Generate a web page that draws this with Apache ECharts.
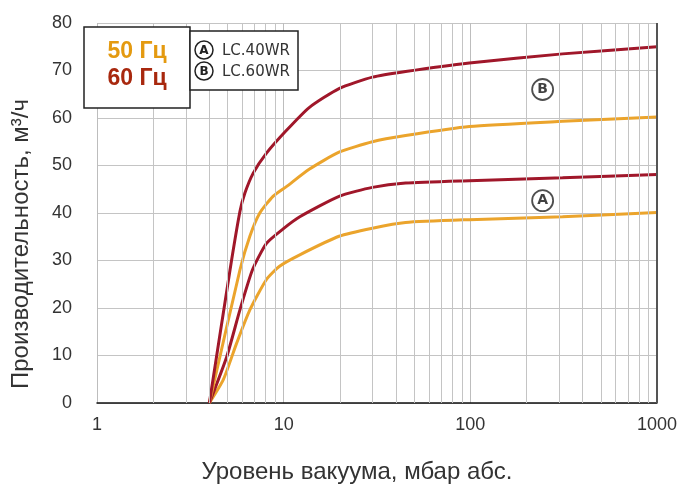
<!DOCTYPE html>
<html>
<head>
<meta charset="utf-8">
<script src="https://cdn.jsdelivr.net/npm/echarts@6/dist/echarts.min.js"></script>
<style>html,body{margin:0;padding:0;background:#fff}#c{width:680px;height:488px}</style>
</head>
<body>
<div id="c"></div>
<script>
// ---- data ----
const xTickLabels = ['1', '10', '100', '1000'];
const yTicks = [0, 10, 20, 30, 40, 50, 60, 70, 80];
const minorGridX = [2,3,4,5,6,7,8,9,20,30,40,50,60,70,80,90,200,300,400,500,600,700,800,900];

// LC.60WR, 60 Hz
const b60x = [4, 5.16, 5.83, 6.2, 6.87, 8.09, 10.3, 13.7, 19.8, 29.9, 45, 98.8, 312, 1000];
const b60y = [0, 28, 40.3, 44.2, 48.4, 52.6, 57.3, 62.2, 66.2, 68.6, 69.8, 71.6, 73.5, 75];
// LC.60WR, 50 Hz
const b50x = [4, 5.83, 6.59, 7.45, 8.77, 10.3, 13.7, 19.8, 29.9, 45, 98.8, 312, 1000];
const b50y = [0, 28, 35.1, 40, 43.5, 45.5, 49.2, 52.8, 55, 56.3, 58.2, 59.3, 60.2];
// LC.40WR, 60 Hz
const a60x = [4, 4.96, 5.83, 6.8, 8.09, 9.9, 12.2, 19.8, 29.9, 45, 98.8, 312, 1000];
const a60y = [0, 9.8, 19.6, 28, 33.6, 36.6, 39.2, 43.5, 45.4, 46.3, 46.8, 47.4, 48.1];
// LC.40WR, 50 Hz
const a50x = [4, 4.75, 5.6, 6.59, 8.09, 9.51, 12.2, 19.8, 29.9, 45, 98.8, 312, 1000];
const a50y = [0, 4.9, 12.6, 19.6, 26, 28.8, 31.2, 35.1, 36.8, 38, 38.6, 39.2, 40.1];

const markerLabels = ['A', 'B'];
const markerX = [244, 244];
const markerY = [42.6, 66];

const freqLabels = ['50 Гц', '60 Гц'];
const modelLabels = ['LC.40WR', 'LC.60WR'];
const xTitle = 'Уровень вакуума, мбар абс.';
const yTitle = 'Производительность, м³/ч';

const RED = '#a0172a';
const ORANGE = '#eba42c';
const zip = (xs, ys) => xs.map((x, i) => [x, ys[i]]);

const chart = echarts.init(document.getElementById('c'), null, {renderer: 'canvas'});
const narrow = "'Liberation Sans Narrow', 'Liberation Sans', Arial, sans-serif";

function curve(name, xs, ys, color) {
  return {
    name, type: 'line', data: zip(xs, ys), showSymbol: false, smooth: 0.2,
    lineStyle: {color, width: 3}, itemStyle: {color}, z: 3, silent: true
  };
}

const option = {
  animation: false,
  backgroundColor: '#fff',
  grid: {left: 97, right: 20, top: 23, bottom: 85, containLabel: false},
  xAxis: {
    type: 'log', logBase: 10, min: 1, max: 1000,
    axisLine: {show: true, onZero: false, lineStyle: {color: '#111', width: 1.5}},
    axisTick: {show: false},
    axisLabel: {color: '#333', fontFamily: narrow, fontSize: 18, margin: 13,
      formatter: v => xTickLabels.find(t => Number(t) === Math.round(v)) || ''},
    splitLine: {show: true, lineStyle: {color: '#bdbdbd', width: 1}}
  },
  yAxis: {
    type: 'value', min: yTicks[0], max: yTicks[yTicks.length - 1], interval: 10,
    axisLine: {show: false}, axisTick: {show: false},
    axisLabel: {color: '#333', fontFamily: narrow, fontSize: 18, margin: 25},
    splitLine: {show: true, lineStyle: {color: '#c4c4c4', width: 1}}
  },
  series: [
    {
      name: 'grid', type: 'line', data: [[1, 0]], showSymbol: false, lineStyle: {opacity: 0}, z: 1, silent: true,
      markLine: {
        silent: true, symbol: ['none', 'none'], label: {show: false}, animation: false,
        lineStyle: {type: 'solid', color: '#c4c4c4', width: 1},
        data: minorGridX.map(v => ({xAxis: v})).concat([{xAxis: 1000, lineStyle: {color: '#555', width: 2}}])
      }
    },
    curve('A 50', a50x, a50y, ORANGE),
    curve('A 60', a60x, a60y, RED),
    curve('B 50', b50x, b50y, ORANGE),
    curve('B 60', b60x, b60y, RED),
    {
      name: 'markers', type: 'scatter', z: 5, silent: true,
      data: markerLabels.map((l, i) => ({value: [markerX[i], markerY[i]], name: l})),
      symbol: 'circle', symbolSize: 21,
      itemStyle: {color: '#fff', borderColor: '#222', borderWidth: 1.8},
      label: {show: true, position: 'inside', formatter: p => p.name, color: '#111',
        fontSize: 14, fontFamily: 'DejaVu Sans', fontWeight: 'bold'}
    }
  ],
  graphic: [
    {type: 'rect', z: 100, shape: {x: 84, y: 27, width: 106, height: 81},
      style: {fill: '#fff', stroke: '#222', lineWidth: 1.5}},
    {type: 'text', z: 101, x: 137, y: 52, style: {text: freqLabels[0], fill: '#e49a10',
      font: "bold 23px 'Liberation Sans', Arial, sans-serif", align: 'center', verticalAlign: 'middle',
      textAlign: 'center', textVerticalAlign: 'middle'}},
    {type: 'text', z: 101, x: 137, y: 79, style: {text: freqLabels[1], fill: '#a8280e',
      font: "bold 23px 'Liberation Sans', Arial, sans-serif", align: 'center', verticalAlign: 'middle',
      textAlign: 'center', textVerticalAlign: 'middle'}},
    {type: 'rect', z: 100, shape: {x: 190, y: 31, width: 108, height: 59},
      style: {fill: '#fff', stroke: '#222', lineWidth: 1.5}},
    {type: 'circle', z: 101, shape: {cx: 204, cy: 50, r: 9}, style: {fill: '#fff', stroke: '#222', lineWidth: 1.5}},
    {type: 'circle', z: 101, shape: {cx: 204, cy: 71, r: 9}, style: {fill: '#fff', stroke: '#222', lineWidth: 1.5}},
    {type: 'text', z: 102, x: 204, y: 50.5, style: {text: markerLabels[0], fill: '#222',
      font: "bold 12px 'DejaVu Sans', sans-serif", align: 'center', verticalAlign: 'middle',
      textAlign: 'center', textVerticalAlign: 'middle'}},
    {type: 'text', z: 102, x: 204, y: 71.5, style: {text: markerLabels[1], fill: '#222',
      font: "bold 12px 'DejaVu Sans', sans-serif", align: 'center', verticalAlign: 'middle',
      textAlign: 'center', textVerticalAlign: 'middle'}},
    {type: 'text', z: 102, x: 222, y: 51, style: {text: modelLabels[0], fill: '#333',
      font: "15px 'DejaVu Sans', sans-serif", align: 'left', verticalAlign: 'middle',
      textAlign: 'left', textVerticalAlign: 'middle'}},
    {type: 'text', z: 102, x: 222, y: 72, style: {text: modelLabels[1], fill: '#333',
      font: "15px 'DejaVu Sans', sans-serif", align: 'left', verticalAlign: 'middle',
      textAlign: 'left', textVerticalAlign: 'middle'}},
    {type: 'text', z: 102, x: 357, y: 472, style: {text: xTitle, fill: '#333',
      font: "24px 'Liberation Sans', Arial, sans-serif", align: 'center', verticalAlign: 'middle',
      textAlign: 'center', textVerticalAlign: 'middle'}},
    {type: 'text', z: 102, x: 21, y: 244, rotation: Math.PI / 2, style: {text: yTitle, fill: '#333',
      font: "24px 'Liberation Sans', Arial, sans-serif", align: 'center', verticalAlign: 'middle',
      textAlign: 'center', textVerticalAlign: 'middle'}}
  ]
};
chart.setOption(option);
</script>
</body>
</html>
